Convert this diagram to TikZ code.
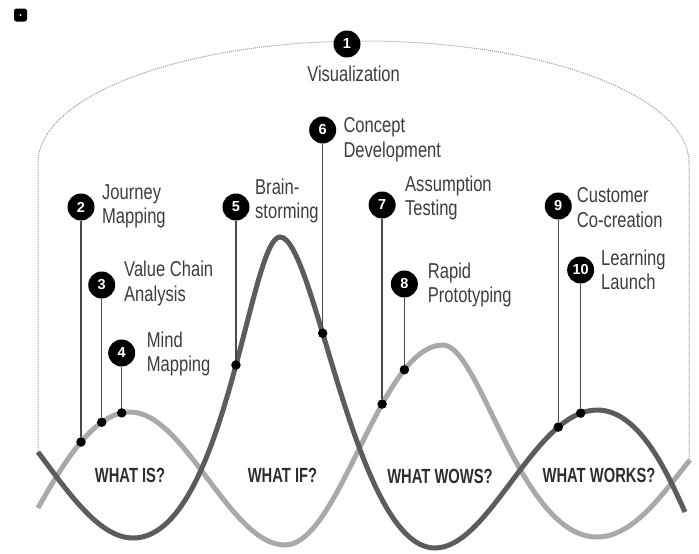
\documentclass[tikz,border=0pt]{standalone}
\usepackage{fontspec}
\setmainfont{Liberation Sans}
\newfontfamily\lblfont[FakeStretch=0.77]{Liberation Sans}
\newfontfamily\headfont[FakeStretch=0.72]{Liberation Sans Bold}
\definecolor{lightwave}{HTML}{A9A9A9}
\definecolor{darkwave}{HTML}{5C5C5C}
\definecolor{pinline}{HTML}{4A4A4A}
\definecolor{lbltext}{HTML}{3D3D3D}
\definecolor{headtext}{HTML}{2E2E2E}
\definecolor{arcdots}{HTML}{9A9A9A}

\begin{document}
\begin{tikzpicture}[x=1pt,y=-1pt,
  wave/.style={line width=5pt},
  num/.style={circle, fill=black, inner sep=0pt, minimum size=27pt, text=white,
    font=\bfseries\fontsize{14.5}{14.5}\selectfont},
  dot/.style={circle, fill=black, inner sep=0pt, minimum size=9.5pt},
  pin/.style={line width=1.4pt, pinline},
  lbl/.style={inner sep=0pt, text=lbltext, font=\lblfont\fontsize{21.5}{24.5}\selectfont},
  head/.style={inner sep=0pt, text=headtext, font=\headfont\fontsize{20.5}{22}\selectfont},
  icon/.style={rectangle, rounded corners=2.5pt, fill=black, minimum size=13pt, inner sep=0pt},
  outline/.style={arcdots, line width=1pt, dash pattern=on 1pt off 1pt}]
\useasboundingbox (0,0) rectangle (699,554);

% small mark in the corner
\node[icon] (logo) at (20.5,15) {};
\fill[white] (logo.center) circle (1.2);

% dotted envelope over the whole process
\draw[outline] (38,452) -- (38,163)
  arc[start angle=180, end angle=360, x radius=325.5, y radius=122] -- (689,460);

% light wave
\draw[wave, lightwave] (38,508)
  .. controls (65,460) and (95,412) ..
     node[coordinate, pos=0.5] (d2) {}
     node[coordinate, pos=0.72] (d3) {}
     node[coordinate, pos=0.92] (d4) {} (130,412)
  .. controls (185,412) and (230,545) .. (285,545)
  .. controls (340,545) and (380,345) ..
     node[coordinate, pos=0.64] (d7) {}
     node[coordinate, pos=0.78] (d8) {} (443,345)
  .. controls (480,345) and (520,537) .. (597,537)
  .. controls (635,537) and (665,490) .. (690,460);

% dark wave
\draw[wave, darkwave] (38,452)
  .. controls (70,495) and (100,538) .. (133,538)
  .. controls (225,538) and (250,237) ..
     node[coordinate, pos=0.55] (d5) {} (280,237)
  .. controls (315,237) and (355,548) ..
     node[coordinate, pos=0.37] (d6) {} (435,548)
  .. controls (490,548) and (535,410) ..
     node[coordinate, pos=0.78] (d9) {}
     node[coordinate, pos=0.91] (d10) {} (597,410)
  .. controls (640,410) and (668,475) .. (685,512);

% phase titles
\node[head, anchor=base] (h1) at (130,482.5) {WHAT IS?};
\node[head, anchor=base] (h2) at (282.5,482) {WHAT IF?};
\node[head, anchor=base] (h3) at (440,483) {WHAT WOWS?};
\node[head, anchor=base] (h4) at (599,482) {WHAT WORKS?};

% numbered markers
\node[num] (n1) at (347,44) {1};
\node[num] (n2) at (d2 |- 0,207) {2};
\node[num] (n3) at (d3 |- 0,285) {3};
\node[num] (n4) at (d4 |- 0,353) {4};
\node[num] (n5) at (d5 |- 0,207) {5};
\node[num] (n6) at (d6 |- 0,130) {6};
\node[num] (n7) at (d7 |- 0,205) {7};
\node[num] (n8) at (d8 |- 0,284) {8};
\node[num] (n9) at (d9 |- 0,206) {9};
\node[num] (n10) at (d10 |- 0,270) {10};

% pins from markers to the waves
\foreach \i in {2,...,10} {
  \node[dot] (p\i) at (d\i) {};
  \draw[pin] (n\i) -- (p\i);
}

% tool names
\node[lbl, anchor=base] (t1) at (353.6,81.7) {Visualization};
\node[lbl, anchor=base west] (t2a) at (102,199) {Journey};
\node[lbl, anchor=base west] (t2b) at (102,223.5) {Mapping};
\node[lbl, anchor=base west] (t3a) at (124,276.7) {Value Chain};
\node[lbl, anchor=base west] (t3b) at (124,301.2) {Analysis};
\node[lbl, anchor=base west] (t4a) at (146.7,347.3) {Mind};
\node[lbl, anchor=base west] (t4b) at (146.7,371.8) {Mapping};
\node[lbl, anchor=base west] (t5a) at (255,194.3) {Brain-};
\node[lbl, anchor=base west] (t5b) at (255,218.8) {storming};
\node[lbl, anchor=base west] (t6a) at (343.3,132.7) {Concept};
\node[lbl, anchor=base west] (t6b) at (343.3,157.2) {Development};
\node[lbl, anchor=base west] (t7a) at (405,191) {Assumption};
\node[lbl, anchor=base west] (t7b) at (405,215.5) {Testing};
\node[lbl, anchor=base west] (t8a) at (427.7,278.3) {Rapid};
\node[lbl, anchor=base west] (t8b) at (427.7,302.8) {Prototyping};
\node[lbl, anchor=base west] (t9a) at (576.7,202.7) {Customer};
\node[lbl, anchor=base west] (t9b) at (576.7,227.2) {Co-creation};
\node[lbl, anchor=base west] (t10a) at (601,265) {Learning};
\node[lbl, anchor=base west] (t10b) at (601,289.5) {Launch};
\end{tikzpicture}
\end{document}
